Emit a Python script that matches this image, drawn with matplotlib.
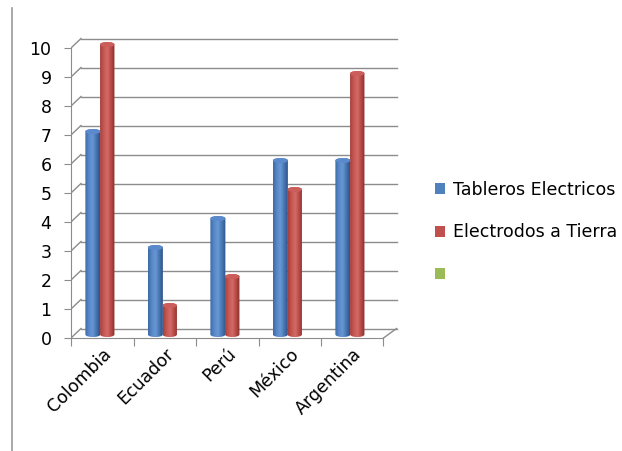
import numpy as np
import matplotlib.pyplot as plt
from matplotlib.path import Path
from matplotlib.patches import PathPatch, Ellipse, Patch
from matplotlib.colors import LinearSegmentedColormap
from matplotlib.lines import Line2D

paises = ["Colombia", "Ecuador", "Perú", "México", "Argentina"]
tableros = [7, 3, 4, 6, 6]
electrodos = [10, 1, 2, 5, 9]
series_names = ["Tableros Electricos", "Electrodos a Tierra", ""]

W, H = 622, 451
fig = plt.figure(figsize=(W / 100, H / 100), dpi=100)
fig.patch.set_facecolor("white")

# plot area in pixels: front axis x=71, value 0 at y=338, 29 px per unit
px0, py0, ppu, ppc = 71, 338, 29.0, 62.5
ax_l, ax_r, ax_t, ax_b = 71, 402, 28, 346
ax = fig.add_axes([ax_l / W, (H - ax_b) / H, (ax_r - ax_l) / W, (ax_b - ax_t) / H])
ax.patch.set_alpha(0)

dx, dy = 10 / ppc, 9.5 / ppu  # depth offset
grid_c = "#8c8c8c"
n = len(paises)

# back wall gridlines + slanted side connectors
for v in range(0, 11):
    ax.plot([0, dx], [v, v + dy], color=grid_c, lw=1.0, zorder=1)
    ax.plot([dx, n + dx + 0.05], [v + dy, v + dy], color=grid_c, lw=1.0, zorder=1)
# floor
ax.plot([n, n + dx + 0.05], [0, dy], color=grid_c, lw=1.0, zorder=1)

for s in ["top", "right"]:
    ax.spines[s].set_visible(False)
ax.spines["left"].set_position(("data", 0))
ax.spines["left"].set_bounds(0, 10)
ax.spines["left"].set_color(grid_c)
ax.spines["bottom"].set_position(("data", 0))
ax.spines["bottom"].set_bounds(0, n)
ax.spines["bottom"].set_color(grid_c)

ax.set_yticks(range(0, 11))
ax.tick_params(axis="y", length=5, color=grid_c, labelsize=12.5, pad=9)

ax.set_xticks(np.arange(0, n + 1))
ax.set_xticklabels([""] * (n + 1))
ax.set_xticks(np.arange(n) + 0.5, labels=paises, minor=True)
ax.tick_params(axis="x", which="major", length=6, color=grid_c, direction="out")
ax.tick_params(axis="x", which="minor", length=0, pad=5, labelsize=12.5, labelrotation=45)


def cylinder(xc, w, v, base, cols, cap_col):
    cap = 5.0 / ppu
    x0, x1 = xc - w / 2, xc + w / 2
    top = base + v
    t = np.linspace(0, np.pi, 30)
    up = np.column_stack([xc - np.cos(t) * w / 2, top + np.sin(t) * cap / 2])
    dn = np.column_stack([xc + np.cos(t) * w / 2, base - np.sin(t) * cap / 2])
    verts = np.vstack([[x0, base], up, [x1, base], dn, [x0, base]])
    patch = PathPatch(Path(verts, closed=True), facecolor="none", edgecolor="none")
    ax.add_patch(patch)
    cmap = LinearSegmentedColormap.from_list("c", cols)
    grad = np.linspace(0, 1, 64).reshape(1, -1)
    im = ax.imshow(grad, cmap=cmap, extent=[x0, x1, base - cap, top + cap],
                   aspect="auto", zorder=3, interpolation="bilinear")
    im.set_clip_path(patch)
    ax.add_patch(Ellipse((xc, top), w, cap, facecolor=cap_col, edgecolor="none", zorder=4))


blue_cols = ["#3D6AA5", "#5787C8", "#6898D4", "#4877B4", "#2D5385"]
red_cols = ["#A63F3C", "#C75854", "#D36B67", "#B64845", "#88302E"]
base = 0.12
for i in range(n):
    cylinder(i + 0.35, 0.24, tableros[i], base, blue_cols, "#5A8ACB")
    cylinder(i + 0.58, 0.23, electrodos[i], base, red_cols, "#CB5E5A")

ax.set_xlim(0, (ax_r - px0) / ppc)
ax.set_ylim(-(ax_b - py0) / ppu, (py0 - ax_t) / ppu)

for lab in ax.get_xticklabels(minor=True):
    lab.set_ha("right")
    lab.set_rotation_mode("anchor")

handles = [Patch(facecolor="#4F81BD"), Patch(facecolor="#C0504D"), Patch(facecolor="#9BBB59")]
fig.legend(handles, series_names, loc="upper left",
           bbox_to_anchor=(419 / W, 1 - 165 / H), frameon=False,
           fontsize=12.5, handlelength=0.6, handleheight=0.6,
           handletextpad=0.45, labelspacing=1.42)

# left border line
fig.add_artist(Line2D([11.5 / W, 11.5 / W], [0, 1 - 8 / H], color="#9a9a9a", lw=1.2))

fig.savefig("out.png", dpi=100)
